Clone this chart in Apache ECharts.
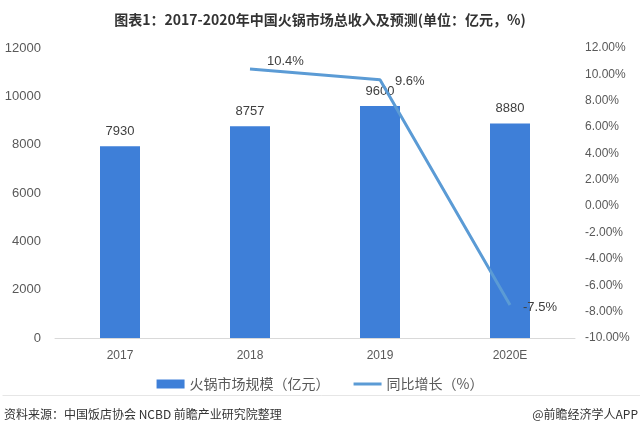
<!DOCTYPE html>
<html>
<head>
<meta charset="utf-8">
<script src="https://cdn.jsdelivr.net/npm/echarts@6/dist/echarts.min.js"></script>
<style>
  html, body { margin: 0; padding: 0; background: #fff; }
  #main { width: 640px; height: 434px; }
</style>
</head>
<body>
<div id="main"></div>
<script>
  // data
  const years = ['2017', '2018', '2019', '2020E'];
  const marketSize = [7930, 8757, 9600, 8880];
  const growth = [null, 10.4, 9.6, -7.5];

  const font = '"Microsoft YaHei", "Noto Sans CJK SC", sans-serif';
  const chart = echarts.init(document.getElementById('main'));

  // label placement for the growth line (first point has no value)
  const growthLabelOffsets = [null, [12, -8], [10, 2], [8, 2]];

  let option = {
    backgroundColor: '#fff',
    title: {
      text: '图表1：2017-2020年中国火锅市场总收入及预测(单位：亿元，%)',
      left: 'center',
      top: 8,
      textStyle: { fontSize: 14, fontWeight: 'bold', color: '#333', fontFamily: font }
    },
    legend: {
      bottom: 38,
      left: 'center',
      itemGap: 24,
      itemWidth: 28,
      itemHeight: 9,
      textStyle: { fontSize: 14, color: '#595959', fontFamily: font },
      data: [
        { name: '火锅市场规模（亿元）', icon: 'rect' },
        { name: '同比增长（%）', icon: 'path://M0,0 L28,0 L28,3 L0,3 Z' }
      ]
    },
    grid: { left: 55, right: 65, top: 48, bottom: 96 },
    xAxis: {
      type: 'category',
      data: years,
      axisTick: { show: false },
      axisLine: { lineStyle: { color: '#d9d9d9' } },
      axisLabel: { color: '#595959', fontSize: 12, margin: 12 }
    },
    yAxis: [
      {
        type: 'value',
        min: 0,
        max: 12000,
        interval: 2000,
        splitLine: { show: false },
        axisLine: { show: false },
        axisTick: { show: false },
        axisLabel: { color: '#595959', fontSize: 13, margin: 14, formatter: v => String(v) }
      },
      {
        type: 'value',
        min: -10,
        max: 12,
        interval: 2,
        splitLine: { show: false },
        axisLine: { show: false },
        axisTick: { show: false },
        axisLabel: {
          color: '#595959',
          fontSize: 12,
          margin: 10,
          formatter: v => v.toFixed(2) + '%'
        }
      }
    ],
    series: [
      {
        name: '火锅市场规模（亿元）',
        type: 'bar',
        data: marketSize,
        barWidth: 40,
        itemStyle: { color: '#3E7FD8' },
        label: { show: true, position: 'top', color: '#404040', fontSize: 13, distance: 8 }
      },
      {
        name: '同比增长（%）',
        type: 'line',
        yAxisIndex: 1,
        data: growth.map((v, i) => v === null ? null : {
          value: v,
          label: { offset: growthLabelOffsets[i] }
        }),
        showSymbol: true,
        symbol: 'circle',
        symbolSize: 0,
        lineStyle: { color: '#5B9BD5', width: 3 },
        itemStyle: { color: '#5B9BD5' },
        label: {
          show: true,
          position: 'right',
          color: '#404040',
          fontSize: 13,
          formatter: p => p.value + '%'
        },
        z: 3
      }
    ],
    graphic: [
      {
        type: 'text',
        left: 4,
        bottom: 14,
        style: { text: '资料来源：中国饭店协会 NCBD 前瞻产业研究院整理', fill: '#333', fontSize: 12, fontFamily: font }
      },
      {
        type: 'text',
        right: 2,
        bottom: 14,
        style: { text: '@前瞻经济学人APP', fill: '#333', fontSize: 12, fontFamily: font }
      },
      {
        type: 'line',
        left: 0,
        bottom: 36,
        shape: { x1: 0, y1: 0, x2: 640, y2: 0 },
        style: { stroke: '#e6e6e6', lineWidth: 1 }
      }
    ]
  };

  chart.setOption(option);
</script>
</body>
</html>
